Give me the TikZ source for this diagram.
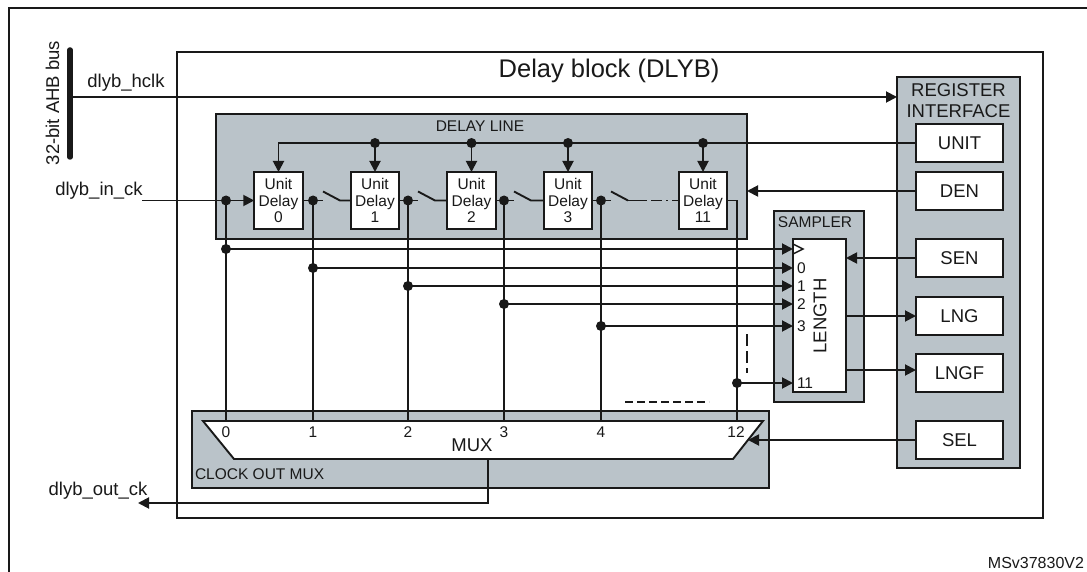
\documentclass[tikz,border=0pt]{standalone}
\usepackage{fontspec}
\setmainfont{Liberation Sans}
\usetikzlibrary{arrows.meta,calc}
\definecolor{boxgray}{RGB}{186,195,201}
\definecolor{ink}{RGB}{25,25,25}
\begin{document}
\begin{tikzpicture}[x=1pt,y=-1pt]
\tikzset{
 every node/.style={outer sep=0pt, text=ink},
 lbl/.style={font=\fontsize{18.5}{21}\selectfont, inner sep=0pt},
 small/.style={font=\fontsize{15.5}{17}\selectfont, inner sep=0pt},
 gbox/.style={draw=ink, fill=boxgray, line width=2pt, inner sep=0pt},
 wbox/.style={draw=ink, fill=white, line width=1.9pt, inner sep=0pt},
 udel/.style={wbox, minimum width=48.5pt, minimum height=57pt, align=center, font=\fontsize{15.5}{16.5}\selectfont},
 rbox/.style={wbox, minimum width=87pt, minimum height=38pt, font=\fontsize{18.5}{21}\selectfont},
 wire/.style={draw=ink, line width=1.9pt},
 arr/.style={wire, -{Triangle[length=11pt,width=11pt]}},
 dot/.style={circle, fill=ink, inner sep=0pt, minimum size=10pt},
 dashln/.style={wire, dash pattern=on 8pt off 4pt},
}
\useasboundingbox (0,0) rectangle (1087,572);
\fill[white] (0,0) rectangle (1087,572);

% outer frame
\draw[line width=2.2pt, draw=ink] (9,572) -- (9,8) -- (1087,8);

% main block
\node[draw=ink, line width=2.8pt, minimum width=866pt, minimum height=466pt, anchor=north west] (dlyb) at (177,52) {};
\node[font=\fontsize{25.5}{30}\selectfont, inner sep=0pt, anchor=base] (title) at (609,78) {Delay block (DLYB)};

% gray blocks
\node[gbox, minimum width=123pt, minimum height=391pt, anchor=north west] (reg) at (897,77) {};
\node[gbox, minimum width=531pt, minimum height=125pt, anchor=north west] (dline) at (216,114) {};
\node[gbox, minimum width=90pt, minimum height=191pt, anchor=north west] (samp) at (774,211) {};
\node[gbox, minimum width=577pt, minimum height=77pt, anchor=north west] (cmux) at (192,411) {};

\node[lbl, anchor=base] (regt1) at (958.5,97) {REGISTER};
\node[lbl, anchor=base] (regt2) at (958.5,118) {INTERFACE};
\node[small, anchor=base] (dlinet) at (480,132) {DELAY LINE};
\node[small, anchor=base] (sampt) at (815,228) {SAMPLER};
\node[small, anchor=west] (cmuxt) at (195,474.5) {CLOCK OUT MUX};

% register boxes
\node[rbox] (unit) at (959.5,143) {UNIT};
\node[rbox] (den) at (959.5,191) {DEN};
\node[rbox] (sen) at (959.5,258) {SEN};
\node[rbox] (lng) at (959.5,316) {LNG};
\node[rbox] (lngf) at (959.5,373) {LNGF};
\node[rbox] (sel) at (959.5,440) {SEL};

% unit delays
\node[udel] (u0) at (278.5,200.5) {Unit\\Delay\\0};
\node[udel] (u1) at (375,200.5) {Unit\\Delay\\1};
\node[udel] (u2) at (471.5,200.5) {Unit\\Delay\\2};
\node[udel] (u3) at (568,200.5) {Unit\\Delay\\3};
\node[udel] (u11) at (703,200.5) {Unit\\Delay\\11};

% sampler inner
\node[wbox, minimum width=53pt, minimum height=153pt, anchor=north west] (smp) at (793,239) {};
\node[lbl, rotate=90] (lent) at (820,316) {LENGTH};

% mux
\coordinate (mtl) at (203,421);
\coordinate (mtr) at (763,421);
\coordinate (mbr) at (733,459);
\coordinate (mbl) at (234,459);
\draw[wbox] (mtl) -- (mtr) -- (mbr) -- (mbl) -- cycle;
\node[lbl] (muxt) at (472,445) {MUX};
\node[small] (m0) at (226,432) {0};
\node[small] (m1) at (313,432) {1};
\node[small] (m2) at (408,432) {2};
\node[small] (m3) at (504,432) {3};
\node[small] (m4) at (601,432) {4};
\node[small] (m12) at (736,432) {12};

% coordinates
\coordinate (bustop) at (70,50);
\coordinate (busbot) at (70,157);
\coordinate (hclk) at (70,97);
\coordinate (inck) at (142,200.5);
\coordinate (i0) at (226,200.5);
\coordinate (o0) at (313,200.5);
\coordinate (o1) at (408,200.5);
\coordinate (o2) at (504,200.5);
\coordinate (o3) at (601,200.5);
\coordinate (k11) at (737,200.5);
\coordinate (b1) at (375,143);
\coordinate (b2) at (471.5,143);
\coordinate (b3) at (568,143);
\coordinate (b11) at (703,143);
\coordinate (c0) at (226,249);
\coordinate (s0) at (313,268);
\coordinate (s1) at (408,286);
\coordinate (s2) at (504,304);
\coordinate (s3) at (601,326);
\coordinate (s11) at (737,383);
\coordinate (muxsel) at ($(mtr)!0.5!(mbr)$);
\coordinate (mout) at (488,459);
\coordinate (outend) at (138,503);
\coordinate (lngfin) at ($(lngf.west)+(0,-3)$);

% bus
\draw[draw=ink, line width=5.5pt, line cap=round] (bustop) -- (busbot);
\node[lbl, rotate=90, anchor=base] (bust) at (59,103) {32-bit AHB bus};
\draw[arr] (hclk) -- (hclk -| reg.west);
\node[lbl, anchor=base] (hclkt) at (126,88) {dlyb\_hclk};

% input
\draw[arr] (inck) -- (u0.west);
\node[lbl, anchor=base] (inckt) at (99,196) {dlyb\_in\_ck};

% unit bus
\draw[arr] (unit.west) -| (u0.north);
\draw[arr] (b1) -- (u1.north);
\draw[arr] (b2) -- (u2.north);
\draw[arr] (b3) -- (u3.north);
\draw[arr] (b11) -- (u11.north);
\draw[arr] (den.west) -- (den.west -| dline.east);

% chain
\draw[wire] (u0.east) -- ($(o0)+(10,0)$);
\draw[wire] ($(o0)+(10,-9)$) -- ($(o0)+(27,0)$) -- (u1.west);
\draw[wire] (u1.east) -- ($(o1)+(10,0)$);
\draw[wire] ($(o1)+(10,-9)$) -- ($(o1)+(27,0)$) -- (u2.west);
\draw[wire] (u2.east) -- ($(o2)+(10,0)$);
\draw[wire] ($(o2)+(10,-9)$) -- ($(o2)+(27,0)$) -- (u3.west);
\draw[wire] (u3.east) -- ($(o3)+(10,0)$);
\draw[wire] ($(o3)+(10,-9)$) -- ($(o3)+(27,0)$) coordinate (b3e);
\draw[wire, dash pattern=on 19pt off 4pt on 11pt off 4pt on 2pt off 4pt on 7pt off 0pt] (b3e) -- (u11.west);
\draw[wire] (u11.east) -- (k11) -- (k11 |- mtl);

% verticals to mux
\draw[wire] (i0) -- (i0 |- mtl);
\draw[wire] (o0) -- (o0 |- mtl);
\draw[wire] (o1) -- (o1 |- mtl);
\draw[wire] (o2) -- (o2 |- mtl);
\draw[wire] (o3) -- (o3 |- mtl);

% sampler inputs
\draw[arr] (c0) -- (c0 -| smp.west);
\draw[arr] (s0) -- (s0 -| smp.west);
\draw[arr] (s1) -- (s1 -| smp.west);
\draw[arr] (s2) -- (s2 -| smp.west);
\draw[arr] (s3) -- (s3 -| smp.west);
\draw[arr] (s11) -- (s11 -| smp.west);
\draw[wire, line width=1.4pt] ($(c0 -| smp.west)+(0,-5)$) -- ++(10,5) -- ++(-10,5);
\node[small, anchor=west] (l0) at (797,268) {0};
\node[small, anchor=west] (l1) at (797,286) {1};
\node[small, anchor=west] (l2) at (797,304) {2};
\node[small, anchor=west] (l3) at (797,326) {3};
\node[small, anchor=west] (l11) at (797,383) {11};

% register links
\draw[arr] (sen.west) -- (sen.west -| smp.east);
\draw[arr] (smp.east |- lng.west) -- (lng.west);
\draw[arr] (smp.east |- lngfin) -- (lngfin);
\draw[arr] (sel.west) -- (sel.west -| muxsel);

% mux out
\draw[arr] (mout) |- (outend);
\node[lbl, anchor=base] (outt) at (98,495) {dlyb\_out\_ck};

% dashed hints
\draw[dashln, dash pattern=on 12pt off 5pt] (747,334) -- (747,373);
\draw[dashln] (625,402) -- (709,402);

% dots
\node[dot] (di0) at (i0) {};
\node[dot] (do0) at (o0) {};
\node[dot] (do1) at (o1) {};
\node[dot] (do2) at (o2) {};
\node[dot] (do3) at (o3) {};
\node[dot] (db1) at (b1) {};
\node[dot] (db2) at (b2) {};
\node[dot] (db3) at (b3) {};
\node[dot] (db11) at (b11) {};
\node[dot] (dc0) at (c0) {};
\node[dot] (ds0) at (s0) {};
\node[dot] (ds1) at (s1) {};
\node[dot] (ds2) at (s2) {};
\node[dot] (ds3) at (s3) {};
\node[dot] (ds11) at (s11) {};

\node[font=\fontsize{16}{18}\selectfont, inner sep=0pt, anchor=base east] (code) at (1084,568) {MSv37830V2};
\end{tikzpicture}
\end{document}
